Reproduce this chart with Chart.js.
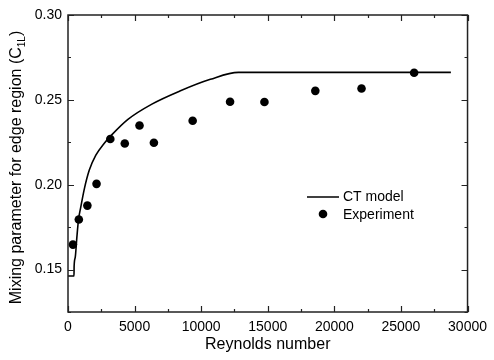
<!DOCTYPE html>
<html>
<head>
<meta charset="utf-8">
<script src="https://cdn.jsdelivr.net/npm/chart.js@4/dist/chart.umd.min.js"></script>
<style>
  body { margin: 0; background: #fff; }
  canvas { display: block; }
</style>
</head>
<body>
<canvas id="chart" width="494" height="360"></canvas>
<script>
// CT model curve
const modelRe  = [0, 450, 460, 540, 665, 790, 940, 1240, 1600, 2090, 2710, 3300, 4500, 6300, 8400, 10690, 12800, 28750];
const modelMix = [0.1462, 0.1462, 0.152, 0.157, 0.169, 0.1795, 0.186, 0.198, 0.2086, 0.2174, 0.2243, 0.2295, 0.2385, 0.2475, 0.2552, 0.2621, 0.2662, 0.2662];

// measured points
const expRe  = [370, 813, 1455, 2143, 3177, 4263, 5370, 6450, 9360, 12170, 14750, 18570, 22040, 25990];
const expMix = [0.1647, 0.1795, 0.1877, 0.2005, 0.2269, 0.2243, 0.2349, 0.2247, 0.2377, 0.2489, 0.2487, 0.2553, 0.2567, 0.2660];

const xLabelEvery = 5000;
const yLabelEvery = 0.05;

const FONT = "'Liberation Sans', Arial, sans-serif";

function toPoints(xs, ys) {
    return xs.map((x, i) => ({ x: x, y: ys[i] }));
}

// frame, inward ticks, titles, legend
const decor = {
    id: 'decor',
    afterDraw(chart) {
        const ctx = chart.ctx;
        const a = chart.chartArea;
        const xs = chart.scales.x, ys = chart.scales.y;
        ctx.save();
        ctx.strokeStyle = '#222';
        ctx.lineWidth = 1.5;
        ctx.strokeRect(a.left, a.top, a.right - a.left, a.bottom - a.top);

        ctx.lineWidth = 1.2;
        ctx.beginPath();
        xs.ticks.forEach(t => {
            const px = Math.round(xs.getPixelForValue(t.value)) + 0.5;
            const len = Math.abs(t.value % xLabelEvery) < 1e-6 ? 6 : 3;
            ctx.moveTo(px, a.bottom); ctx.lineTo(px, a.bottom - len);
            ctx.moveTo(px, a.top); ctx.lineTo(px, a.top + len);
        });
        ys.ticks.forEach(t => {
            const py = Math.round(ys.getPixelForValue(t.value)) + 0.5;
            const r = t.value / yLabelEvery;
            const len = Math.abs(r - Math.round(r)) < 1e-6 ? 6 : 3;
            ctx.moveTo(a.left, py); ctx.lineTo(a.left + len, py);
            ctx.moveTo(a.right, py); ctx.lineTo(a.right - len, py);
        });
        ctx.stroke();

        // x title
        ctx.fillStyle = '#000';
        ctx.font = '16px ' + FONT;
        ctx.textAlign = 'center';
        ctx.textBaseline = 'middle';
        ctx.fillText('Reynolds number', (a.left + a.right) / 2, 345);

        // y title with subscript
        const main = 'Mixing parameter for edge region (C';
        const sub = '1L';
        const end = ')';
        ctx.font = '16px ' + FONT;
        const w1 = ctx.measureText(main).width;
        const w3 = ctx.measureText(end).width;
        ctx.font = '10px ' + FONT;
        const w2 = ctx.measureText(sub).width;
        const total = w1 + w2 + w3;
        ctx.translate(17, (a.top + a.bottom) / 2 + 4);
        ctx.rotate(-Math.PI / 2);
        ctx.textAlign = 'left';
        ctx.textBaseline = 'middle';
        let x0 = -total / 2;
        ctx.font = '16px ' + FONT;
        ctx.fillText(main, x0, 0);
        ctx.font = '10px ' + FONT;
        ctx.fillText(sub, x0 + w1, 5);
        ctx.font = '16px ' + FONT;
        ctx.fillText(end, x0 + w1 + w2, 0);
        ctx.restore();

        // legend
        ctx.save();
        ctx.strokeStyle = '#000';
        ctx.lineWidth = 1.5;
        ctx.beginPath();
        ctx.moveTo(307, 197); ctx.lineTo(339, 197);
        ctx.stroke();
        ctx.fillStyle = '#000';
        ctx.beginPath();
        ctx.arc(323, 214, 4.3, 0, Math.PI * 2);
        ctx.fill();
        ctx.font = '14px ' + FONT;
        ctx.textAlign = 'left';
        ctx.textBaseline = 'middle';
        ctx.fillText('CT model', 343, 197);
        ctx.fillText('Experiment', 343, 215);
        ctx.restore();
    }
};

new Chart(document.getElementById('chart'), {
    type: 'scatter',
    data: {
        datasets: [{
            label: 'CT model',
            data: toPoints(modelRe, modelMix),
            showLine: true,
            borderColor: '#000',
            borderWidth: 1.6,
            pointRadius: 0,
            cubicInterpolationMode: 'monotone'
        }, {
            label: 'Experiment',
            data: toPoints(expRe, expMix),
            backgroundColor: '#000',
            borderColor: '#000',
            pointRadius: 4.3,
            pointBorderWidth: 0
        }]
    },
    plugins: [decor],
    options: {
        responsive: false,
        animation: false,
        layout: { padding: { left: 0, right: 20, top: 15, bottom: 0 } },
        plugins: {
            legend: { display: false },
            tooltip: { enabled: false }
        },
        scales: {
            x: {
                type: 'linear',
                min: 0,
                max: 30000,
                grid: { display: false, drawTicks: false },
                border: { display: false },
                afterFit: s => { s.height = 48; },
                ticks: {
                    stepSize: 2500,
                    padding: 7,
                    color: '#000',
                    font: { family: FONT, size: 14 },
                    maxRotation: 0,
                    autoSkip: false,
                    callback: v => (v % xLabelEvery === 0 ? String(v) : '')
                }
            },
            y: {
                type: 'linear',
                min: 0.125,
                max: 0.30,
                grid: { display: false, drawTicks: false },
                border: { display: false },
                afterFit: s => { s.width = 68; },
                ticks: {
                    stepSize: 0.025,
                    padding: 6,
                    color: '#000',
                    font: { family: FONT, size: 14 },
                    autoSkip: false,
                    callback: v => {
                        const r = v / yLabelEvery;
                        return Math.abs(r - Math.round(r)) < 1e-6 ? v.toFixed(2) : '';
                    }
                }
            }
        }
    }
});
</script>
</body>
</html>
